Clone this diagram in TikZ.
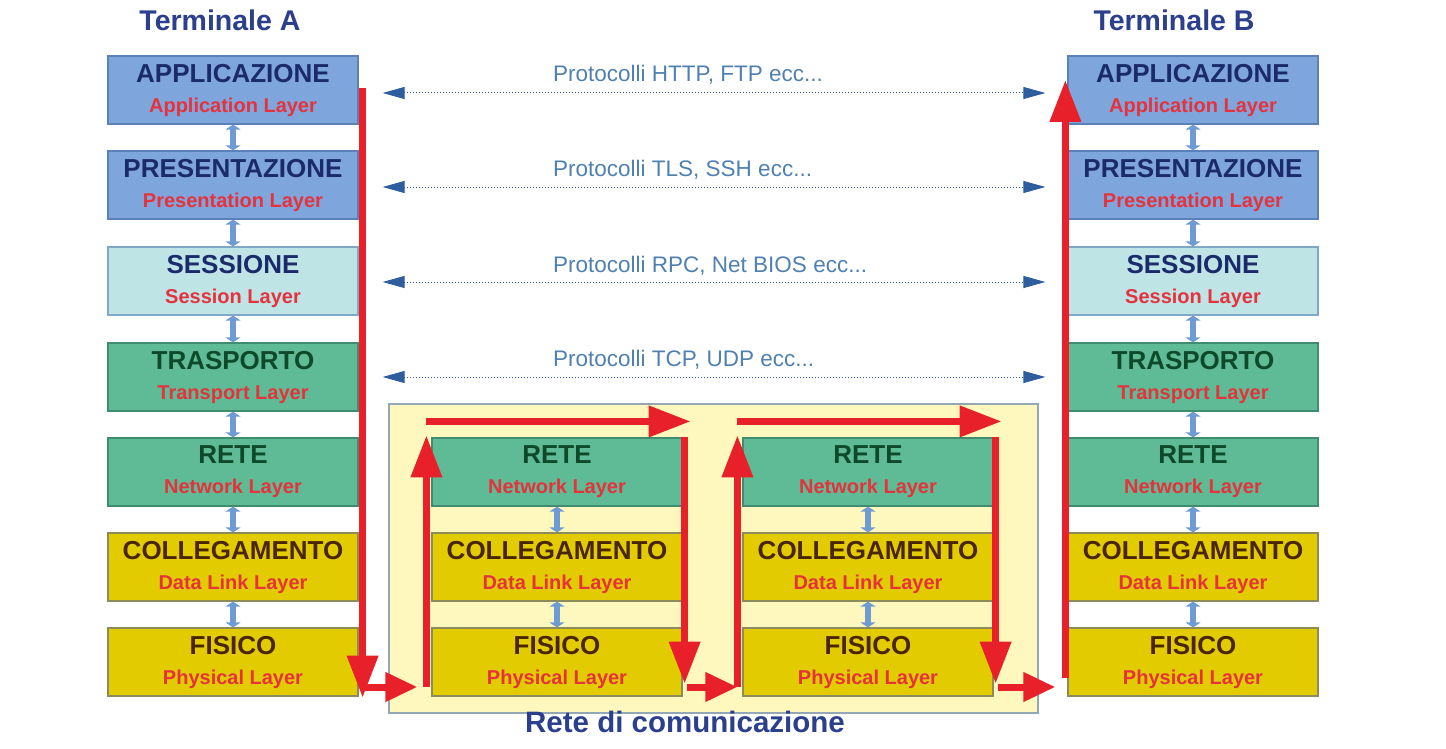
\documentclass[tikz,border=0pt]{standalone}
\usepackage{fontspec}
\setmainfont{Liberation Sans}
\usetikzlibrary{arrows.meta}

\definecolor{appfill}{HTML}{7EA6DC}
\definecolor{appdraw}{HTML}{5A82B8}
\definecolor{sesfill}{HTML}{BEE4E6}
\definecolor{sesdraw}{HTML}{7FA8C4}
\definecolor{grnfill}{HTML}{5EBB95}
\definecolor{grndraw}{HTML}{3F8C70}
\definecolor{yelfill}{HTML}{E2CC00}
\definecolor{yeldraw}{HTML}{8C8C5A}
\definecolor{navytxt}{HTML}{1B2A6B}
\definecolor{grntxt}{HTML}{0E4A2A}
\definecolor{brntxt}{HTML}{4A2600}
\definecolor{subred}{HTML}{E5323C}
\definecolor{arrred}{HTML}{E8202A}
\definecolor{protoblue}{HTML}{2F5E9E}
\definecolor{protolab}{HTML}{4F80B0}
\definecolor{dblblue}{HTML}{6E9CD2}
\definecolor{netfill}{HTML}{FFF8BE}
\definecolor{netdraw}{HTML}{93A7B5}
\definecolor{headblue}{HTML}{2B3F8C}

\newcommand{\lname}[1]{{\fontsize{20}{24}\selectfont\color{subred}#1}}

\begin{document}
\begin{tikzpicture}[x=1pt,y=-1pt,
    layer/.style={draw, line width=1.2pt, minimum width=250pt, minimum height=68pt,
      inner sep=0pt, align=center, font=\bfseries\fontsize{26}{30}\selectfont},
    app/.style={layer, fill=appfill, draw=appdraw, text=navytxt},
    ses/.style={layer, fill=sesfill, draw=sesdraw, text=navytxt},
    grn/.style={layer, fill=grnfill, draw=grndraw, text=grntxt},
    yel/.style={layer, fill=yelfill, draw=yeldraw, text=brntxt},
    link/.style={draw=dblblue, line width=6.5pt,
      {Triangle[width=15pt,length=5pt]}-{Triangle[width=15pt,length=5pt]}},
    proto/.style={draw=protoblue, dotted, line width=1pt,
      {Triangle[width=12pt,length=22pt]}-{Triangle[width=12pt,length=22pt]},
      shorten <=24pt, shorten >=22pt},
    plabel/.style={anchor=base west, inner sep=0pt, text=protolab,
      font=\fontsize{22.5}{26}\selectfont},
    head/.style={anchor=base, inner sep=0pt, text=headblue,
      font=\bfseries\fontsize{28.5}{32}\selectfont},
    flow/.style={draw=arrred, line width=7pt, -{Triangle[length=42pt,width=30pt]}},
    hop/.style={draw=arrred, line width=7pt, -{Triangle[length=32pt,width=28pt]}}
  ]
  \useasboundingbox (0,0) rectangle (1446,749);

  % rete di comunicazione
  \fill[netfill, draw=netdraw, line width=1.2pt] (389,404) rectangle (1038,713);
  \node[head, font=\bfseries\fontsize{29.5}{32}\selectfont] (net) at (685,732) {Rete di comunicazione};

  % terminale A
  \node[head] (tA) at (220,31) {Terminale A};
  \node[app] (a1) at (233,90)  {APPLICAZIONE\\\lname{Application Layer}};
  \node[app] (a2) at (233,185) {PRESENTAZIONE\\\lname{Presentation Layer}};
  \node[ses] (a3) at (233,281) {SESSIONE\\\lname{Session Layer}};
  \node[grn] (a4) at (233,377) {TRASPORTO\\\lname{Transport Layer}};
  \node[grn] (a5) at (233,472) {RETE\\\lname{Network Layer}};
  \node[yel] (a6) at (233,567) {COLLEGAMENTO\\\lname{Data Link Layer}};
  \node[yel] (a7) at (233,662) {FISICO\\\lname{Physical Layer}};

  % terminale B
  \node[head] (tB) at (1174,31) {Terminale B};
  \node[app] (b1) at (1193,90)  {APPLICAZIONE\\\lname{Application Layer}};
  \node[app] (b2) at (1193,185) {PRESENTAZIONE\\\lname{Presentation Layer}};
  \node[ses] (b3) at (1193,281) {SESSIONE\\\lname{Session Layer}};
  \node[grn] (b4) at (1193,377) {TRASPORTO\\\lname{Transport Layer}};
  \node[grn] (b5) at (1193,472) {RETE\\\lname{Network Layer}};
  \node[yel] (b6) at (1193,567) {COLLEGAMENTO\\\lname{Data Link Layer}};
  \node[yel] (b7) at (1193,662) {FISICO\\\lname{Physical Layer}};

  % nodi intermedi
  \node[grn] (r1) at (557,472) {RETE\\\lname{Network Layer}};
  \node[yel] (c1) at (557,567) {COLLEGAMENTO\\\lname{Data Link Layer}};
  \node[yel] (f1) at (557,662) {FISICO\\\lname{Physical Layer}};
  \node[grn] (r2) at (868,472) {RETE\\\lname{Network Layer}};
  \node[yel] (c2) at (868,567) {COLLEGAMENTO\\\lname{Data Link Layer}};
  \node[yel] (f2) at (868,662) {FISICO\\\lname{Physical Layer}};

  % collegamenti tra livelli
  \draw[link] (a1) -- (a2);  \draw[link] (a2) -- (a3);
  \draw[link] (a3) -- (a4);  \draw[link] (a4) -- (a5);
  \draw[link] (a5) -- (a6);  \draw[link] (a6) -- (a7);
  \draw[link] (b1) -- (b2);  \draw[link] (b2) -- (b3);
  \draw[link] (b3) -- (b4);  \draw[link] (b4) -- (b5);
  \draw[link] (b5) -- (b6);  \draw[link] (b6) -- (b7);
  \draw[link] (r1) -- (c1);  \draw[link] (c1) -- (f1);
  \draw[link] (r2) -- (c2);  \draw[link] (c2) -- (f2);

  % protocolli
  \draw[proto] ([yshift=-3pt]a1.east) -- ([yshift=-3pt]b1.west);
  \draw[proto] ([yshift=-2pt]a2.east) -- ([yshift=-2pt]b2.west);
  \draw[proto] ([yshift=-1pt]a3.east) -- ([yshift=-1pt]b3.west);
  \draw[proto] (a4.east) -- (b4.west);
  \node[plabel] (p1) at (553,82)  {Protocolli HTTP, FTP ecc...};
  \node[plabel] (p2) at (553,177) {Protocolli TLS, SSH ecc...};
  \node[plabel] (p3) at (553,272) {Protocolli RPC, Net BIOS ecc...};
  \node[plabel] (p4) at (553,366) {Protocolli TCP, UDP ecc...};

  % percorso dei dati
  \draw[flow] ([xshift=4pt,yshift=2pt]a1.east) -- ([xshift=4pt,yshift=-1pt]a7.south east);
  \draw[hop] ([xshift=4pt,yshift=-25pt]a7.east) -- ([xshift=-14pt,yshift=-25pt]f1.west);
  \draw[flow] ([xshift=-5pt,yshift=-25pt]f1.west) -- ([xshift=-5pt,yshift=2pt]r1.north west);
  \draw[flow] ([xshift=-5pt,yshift=16pt]r1.north west) -- ([xshift=8pt,yshift=16pt]r1.north east);
  \draw[flow] ([xshift=2pt]r1.north east) -- ([xshift=2pt,yshift=13pt]f1.south east);
  \draw[hop] ([xshift=4pt,yshift=-25pt]f1.east) -- ([xshift=-5pt,yshift=-25pt]f2.west);
  \draw[flow] ([xshift=-5pt,yshift=-25pt]f2.west) -- ([xshift=-5pt,yshift=2pt]r2.north west);
  \draw[flow] ([xshift=-5pt,yshift=16pt]r2.north west) -- ([xshift=8pt,yshift=16pt]r2.north east);
  \draw[flow] ([xshift=2pt]r2.north east) -- ([xshift=2pt,yshift=13pt]f2.south east);
  \draw[hop] ([xshift=4pt,yshift=-25pt]f2.east) -- ([xshift=-12pt,yshift=-25pt]b7.west);
  \draw[flow] ([xshift=-2pt,yshift=-16pt]b7.west) -- ([xshift=-2pt,yshift=10pt]b1.west);
\end{tikzpicture}
\end{document}
